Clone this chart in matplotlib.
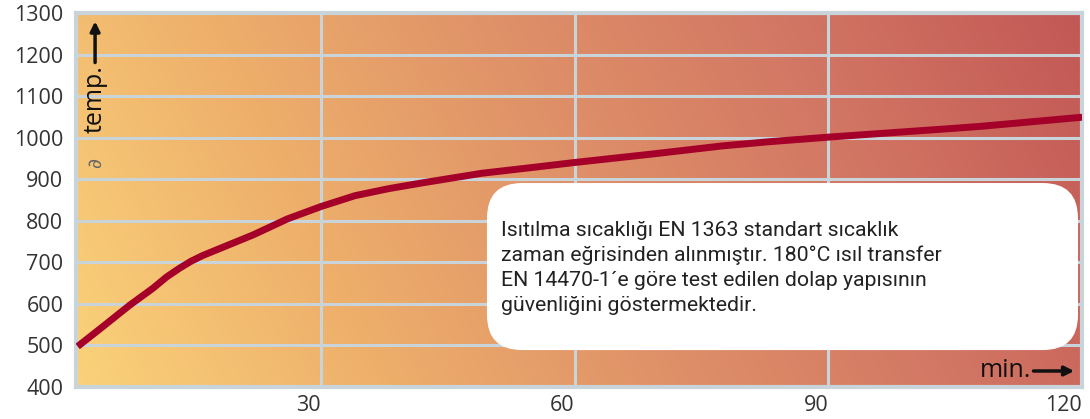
import numpy as np
import matplotlib
matplotlib.use("Agg")
from matplotlib import pyplot as plt
from matplotlib.colors import LinearSegmentedColormap
from matplotlib.patches import FancyBboxPatch

# values (minutes, degC)
minutes = [1.2, 4.2, 7.4, 10.1, 11.7, 13.3, 14.6, 16.0, 19.0, 22.0, 26.0, 30.0,
           34.0, 38.0, 42.0, 49.0, 55.0, 60.0, 69.0, 77.5, 83.0, 90.0, 97.0,
           104.0, 108.0, 114.0, 120.0]
temps = [497, 545, 597, 637, 664, 686, 702, 716, 741, 766, 804, 834,
         860, 877, 891, 914, 928, 940, 960, 980, 990, 1001, 1011,
         1021, 1027, 1038, 1049]

x_ticks = [30, 60, 90, 120]
y_ticks = [400, 500, 600, 700, 800, 900, 1000, 1100, 1200, 1300]

note = ("Isıtılma sıcaklığı EN 1363 standart sıcaklık\n"
        "zaman eğrisinden alınmıştır. 180°C ısıl transfer\n"
        "EN 14470-1´e göre test edilen dolap yapısının\n"
        "güvenliğini göstermektedir.")

GRID = "#c9d4da"
LINE = "#a50029"

fig = plt.figure(figsize=(10.9, 4.19), dpi=100)
ax = fig.add_axes([0.0697, 0.0771, 0.9230, 0.8919])

# background gradient (yellow bottom-left -> red top-right)
bg = LinearSegmentedColormap.from_list(
    "heat", ["#fad27a", "#eeb06b", "#df9168", "#d27664", "#c25855"])
gx, gy = np.meshgrid(np.linspace(0, 1, 400), np.linspace(0, 1, 100))
ax.imshow(0.85 * gx + 0.15 * gy, cmap=bg, origin="lower", aspect="auto",
          extent=[0, 1, 0, 1], transform=ax.transAxes, zorder=0,
          vmin=0, vmax=1)

ax.set_xlim(1, 120)
ax.set_ylim(400, 1300)
ax.set_xticks(x_ticks)
ax.set_yticks(y_ticks)
ax.set_xticklabels([str(t) for t in x_ticks], ha="right")
ax.tick_params(length=0, labelsize=15.5, colors="#333333")
ax.tick_params(axis="y", pad=9)
ax.tick_params(axis="x", pad=6)
for lbl in ax.get_xticklabels() + ax.get_yticklabels():
    lbl.set_fontfamily("Open Sans")
ax.grid(True, color=GRID, linewidth=2.2, zorder=1)
ax.set_axisbelow(False)
for s in ax.spines.values():
    s.set_color(GRID)
    s.set_linewidth(3)

ax.plot(minutes, temps, color=LINE, linewidth=5, zorder=3,
        solid_capstyle="butt", solid_joinstyle="round")

# note box
box = FancyBboxPatch((0.4085, 0.098), 0.5875, 0.447,
                     boxstyle="round,pad=0,rounding_size=0.035",
                     transform=ax.transAxes, facecolor="white",
                     edgecolor="none", zorder=4, mutation_aspect=2.7)
ax.add_patch(box)
ax.text(0.4225, 0.318, note, transform=ax.transAxes, fontsize=15.3,
        family="Roboto", color="#222222", va="center",
        ha="left", linespacing=1.38, zorder=5)

# axis captions with arrows
ax.text(0.019, 0.86, "temp.", transform=ax.transAxes, rotation=90,
        fontsize=18, family="Open Sans", color="#111111",
        ha="center", va="top", zorder=5)
ax.text(0.019, 0.60, "∂", transform=ax.transAxes, rotation=90,
        fontsize=14, style="italic", color="#666666",
        ha="center", va="center", zorder=5)
ax.annotate("", xy=(0.019, 0.985), xytext=(0.019, 0.86),
            xycoords="axes fraction",
            arrowprops=dict(arrowstyle="-|>", color="#111111", lw=2.5,
                            mutation_scale=14), zorder=5)
ax.text(0.950, 0.042, "min.", transform=ax.transAxes, fontsize=18,
        family="Open Sans", color="#111111", ha="right", va="center",
        zorder=5)
ax.annotate("", xy=(0.995, 0.042), xytext=(0.949, 0.042),
            xycoords="axes fraction",
            arrowprops=dict(arrowstyle="-|>", color="#111111", lw=2.5,
                            mutation_scale=14), zorder=5)

fig.savefig("out.png", dpi=100)
